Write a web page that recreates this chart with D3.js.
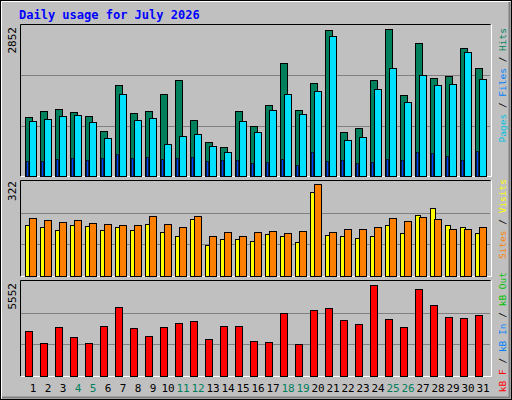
<!DOCTYPE html><html><head><meta charset="utf-8">
<script src="https://cdn.jsdelivr.net/npm/d3@7"></script>
<style>body{margin:0;background:#fff}text{font-family:"DejaVu Sans Mono",monospace}</style></head><body>
<svg id="c" width="512" height="400"></svg>
<script>
const days = d3.range(1,32);
const weekend = [4,5,11,12,18,19,25,26];
const hits = [1114,1228,1266,1209,1133,850,1719,1190,1228,1549,1813,1058,642,548,1228,944,1341,2134,1247,1757,2758,831,907,1813,2777,1530,2512,1851,1889,2418,2040];
const files = [1039,1077,1133,1152,1020,718,1549,1058,1096,604,756,793,567,453,1039,831,1247,1549,1171,1606,2644,680,737,1643,2040,1398,1908,1719,1738,2342,1832];
const pages = [283,283,321,340,302,340,416,340,359,321,340,359,283,302,302,246,264,321,208,453,283,302,246,264,321,302,453,434,378,302,472];
const visits = [172,165,155,172,168,155,165,155,175,148,134,192,104,124,124,118,141,134,114,284,138,134,128,134,172,145,206,229,172,165,145];
const sites = [195,189,182,189,179,175,172,172,202,175,165,202,134,148,134,148,151,145,151,311,148,158,158,165,195,185,199,192,158,158,165];
const kbytes = [2648,1947,2882,2297,1947,2940,4050,2823,2356,2882,3115,3232,2181,2940,2940,2064,2005,3699,1889,3875,3991,3290,3057,5335,3349,2882,5101,4167,3466,3407,3582];
const maxTop = 2852, maxMid = 322, maxBot = 5552;

const svg = d3.select("#c");
svg.append("rect").attr("x",0.5).attr("y",0.5).attr("width",511).attr("height",399).attr("fill","#C0C0C0").attr("stroke","#000");
svg.append("path").attr("d","M1.5,398.5V1.5H510.5").attr("stroke","#fff").attr("fill","none");
svg.append("path").attr("d","M2,397.5H509.5V2").attr("stroke","#808080").attr("stroke-width",2).attr("fill","none");
svg.append("text").attr("x",19).attr("y",19).attr("fill","#0000FF").attr("font-weight","bold").attr("font-size",12).text("Daily usage for July 2026");

const x = d3.scaleBand().domain(days).range([25,490]);
function panel(top,bottom,max,lab,labEnd){
  svg.append("path").attr("d",`M20.5,${bottom+.5}V${top+.5}H490.5`).attr("stroke","#000").attr("fill","none");
  svg.append("path").attr("d",`M20.5,${bottom+.5}H491.5V${top+.5}`).attr("stroke","#fff").attr("fill","none");
  const y = d3.scaleLinear().domain([0,max]).range([bottom,top+1]);
  [max/3,2*max/3].forEach(v=>svg.append("line").attr("x1",21).attr("x2",490).attr("y1",Math.round(y(v))+.5).attr("y2",Math.round(y(v))+.5).attr("stroke","#808080"));
  svg.append("text").attr("transform",`translate(16,${labEnd}) rotate(-90)`).attr("text-anchor","end").attr("font-size",11).text(lab);
  return y;
}
function bars(data,y,off,w,col){
  svg.append("g").selectAll("rect").data(data).join("rect")
   .attr("x",(d,i)=>x(days[i])+off+.5).attr("y",d=>Math.round(y(d))+.5)
   .attr("width",w).attr("height",d=>y(0)-Math.round(y(d)))
   .attr("fill",col).attr("stroke","#000");
}
const y1 = panel(24,176,maxTop,"2852",27);
bars(hits,y1,0,7,"#00805C"); bars(files,y1,4,7,"#00E0FF");
svg.append("g").selectAll("rect").data(pages).join("rect")
  .attr("x",(d,i)=>x(days[i])+1.5).attr("y",d=>Math.round(y1(d))+.5).attr("width",2).attr("height",d=>y1(0)-Math.round(y1(d)))
  .attr("fill","#0040FF").attr("stroke","#000").attr("stroke-width",0.6);
const y2 = panel(180,276,maxMid,"322",181);
bars(visits,y2,0,5,"#FFFF00"); bars(sites,y2,4,7,"#FF8000");
const y3 = panel(280,376,maxBot,"5552",283);
bars(kbytes,y3,0,7,"#FF0000");

svg.append("g").selectAll("text").data(days).join("text")
  .attr("x",d=>x(d)+8).attr("y",392).attr("text-anchor","middle").attr("font-size",11)
  .attr("fill",d=>weekend.includes(d)?"#00805C":"#000").text(d=>d);

function rlabel(parts,yEnd){
  const t = svg.append("text").attr("transform",`translate(506,${yEnd}) rotate(-90)`).attr("text-anchor","end").attr("font-size",9.5);
  parts.forEach(p=>t.append("tspan").attr("fill",p[1]).text(p[0]));
}
rlabel([["Pages","#00C0E0"],[" / ","#000"],["Files","#0080FF"],[" / ","#000"],["Hits","#00805C"]],28);
rlabel([["Sites","#FF8000"],[" / ","#000"],["Visits","#FFFF00"]],179);
rlabel([["kB F","#FF0000"],[" / ","#000"],["kB In","#0080FF"],[" / ","#000"],["kB Out","#00C000"]],272);
</script></body></html>
